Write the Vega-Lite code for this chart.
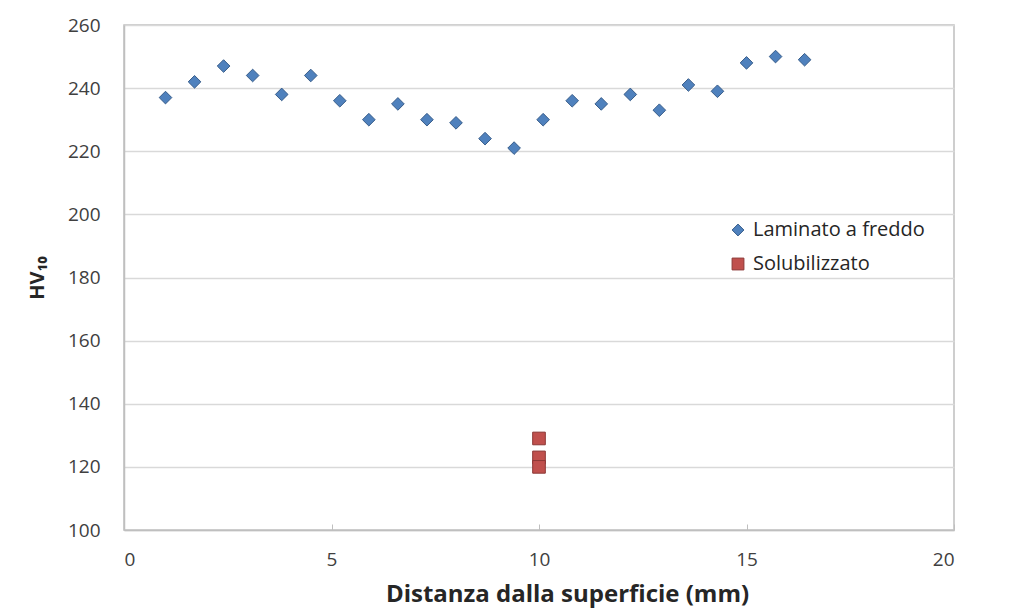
{
  "$schema": "https://vega.github.io/schema/vega-lite/v6.json",
  "width": 830,
  "height": 505,
  "autosize": "none",
  "padding": {"left": 124, "top": 25, "right": 58, "bottom": 78},
  "background": "white",
  "config": {
    "font": "Open Sans",
    "view": {"stroke": "#BFBFBF", "strokeWidth": 1.5}
  },
  "data": {
    "values": [
      {"d": 1.0, "hv": 237, "serie": "Laminato a freddo"},
      {"d": 1.7, "hv": 242, "serie": "Laminato a freddo"},
      {"d": 2.4, "hv": 247, "serie": "Laminato a freddo"},
      {"d": 3.1, "hv": 244, "serie": "Laminato a freddo"},
      {"d": 3.8, "hv": 238, "serie": "Laminato a freddo"},
      {"d": 4.5, "hv": 244, "serie": "Laminato a freddo"},
      {"d": 5.2, "hv": 236, "serie": "Laminato a freddo"},
      {"d": 5.9, "hv": 230, "serie": "Laminato a freddo"},
      {"d": 6.6, "hv": 235, "serie": "Laminato a freddo"},
      {"d": 7.3, "hv": 230, "serie": "Laminato a freddo"},
      {"d": 8.0, "hv": 229, "serie": "Laminato a freddo"},
      {"d": 8.7, "hv": 224, "serie": "Laminato a freddo"},
      {"d": 9.4, "hv": 221, "serie": "Laminato a freddo"},
      {"d": 10.1, "hv": 230, "serie": "Laminato a freddo"},
      {"d": 10.8, "hv": 236, "serie": "Laminato a freddo"},
      {"d": 11.5, "hv": 235, "serie": "Laminato a freddo"},
      {"d": 12.2, "hv": 238, "serie": "Laminato a freddo"},
      {"d": 12.9, "hv": 233, "serie": "Laminato a freddo"},
      {"d": 13.6, "hv": 241, "serie": "Laminato a freddo"},
      {"d": 14.3, "hv": 239, "serie": "Laminato a freddo"},
      {"d": 15.0, "hv": 248, "serie": "Laminato a freddo"},
      {"d": 15.7, "hv": 250, "serie": "Laminato a freddo"},
      {"d": 16.4, "hv": 249, "serie": "Laminato a freddo"},
      {"d": 10.0, "hv": 129, "serie": "Solubilizzato"},
      {"d": 10.0, "hv": 123, "serie": "Solubilizzato"},
      {"d": 10.0, "hv": 120, "serie": "Solubilizzato"}
    ]
  },
  "mark": {"type": "point", "filled": true, "size": 160, "strokeWidth": 1, "opacity": 1},
  "encoding": {
    "x": {
      "field": "d", "type": "quantitative",
      "scale": {"domain": [0, 20], "nice": false, "zero": false},
      "axis": {
        "values": [0, 5, 10, 15, 20],
        "title": "Distanza dalla superficie (mm)",
        "titleFontSize": 24, "titleFontWeight": "bold", "titleColor": "#262626",
        "titlePadding": 13,
        "titleX": 443,
        "labelFontSize": 19, "labelColor": "#404040", "labelPadding": 26,
        "grid": false,
        "domainColor": "#BFBFBF", "domainWidth": 1.5,
        "tickColor": "#BFBFBF", "tickSize": -6, "tickWidth": 1
      }
    },
    "y": {
      "field": "hv", "type": "quantitative",
      "scale": {"domain": [100, 260], "nice": false, "zero": false},
      "axis": {
        "values": [100, 120, 140, 160, 180, 200, 220, 240, 260],
        "title": "HV₁₀",
        "titleFontSize": 20, "titleFontWeight": "bold", "titleColor": "#262626",
        "titlePadding": 20,
        "labelFontSize": 19, "labelColor": "#404040", "labelPadding": 24,
        "ticks": false,
        "grid": true, "gridColor": "#D9D9D9", "gridWidth": 1.5,
        "domainColor": "#BFBFBF", "domainWidth": 1.5
      }
    },
    "color": {
      "field": "serie", "type": "nominal",
      "scale": {"domain": ["Laminato a freddo", "Solubilizzato"], "range": ["#4F81BD", "#C0504D"]},
      "legend": {
        "title": null,
        "orient": "none",
        "legendX": 604,
        "legendY": 195,
        "labelFontSize": 20,
        "labelLimit": 400,
        "labelColor": "#262626",
        "symbolSize": 140,
        "rowPadding": 14,
        "labelOffset": 5,
        "symbolStrokeWidth": 1
      }
    },
    "shape": {
      "field": "serie", "type": "nominal",
      "scale": {"domain": ["Laminato a freddo", "Solubilizzato"], "range": ["diamond", "square"]},
      "legend": null
    },
    "stroke": {
      "field": "serie", "type": "nominal",
      "scale": {"domain": ["Laminato a freddo", "Solubilizzato"], "range": ["#385D8A", "#8C3836"]},
      "legend": null
    }
  }
}
